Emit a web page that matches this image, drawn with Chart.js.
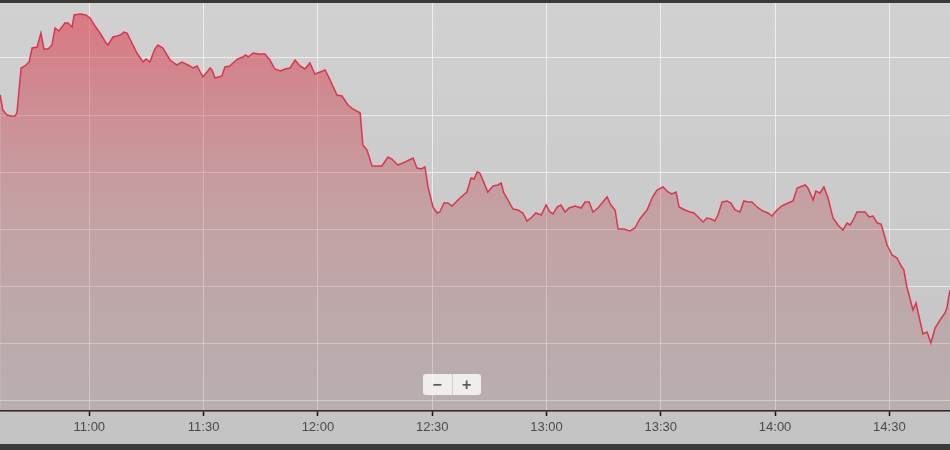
<!DOCTYPE html>
<html>
<head>
<meta charset="utf-8">
<title>Intraday price</title>
<script src="https://cdn.jsdelivr.net/npm/chart.js@4/dist/chart.umd.min.js"></script>
<style>
  html, body { margin: 0; padding: 0; background: #3b3a38; }
  #wrap { position: relative; width: 950px; height: 450px; }
  #zoomCtl {
    position: absolute; left: 423px; top: 374px; width: 58px; height: 21px;
    background: rgba(255,255,255,0.78); border-radius: 3px; display: flex;
    font: bold 16px "Liberation Sans", Arial, sans-serif; color: #5c5c5c;
  }
  #zoomCtl span { flex: 1; text-align: center; line-height: 21px; }
  #zoomCtl span + span { border-left: 1px solid rgba(200,200,200,0.8); }
</style>
</head>
<body>
<div id="wrap">
  <canvas id="priceChart"></canvas>
  <div id="zoomCtl"><span>−</span><span>+</span></div>
</div>
<script>
/* Intraday line, minutes counted from 10:00 */
const timeMin = [
  36.6, 37.3, 38.4, 39.4, 40.5, 41.0, 42.1, 43.1, 44.2, 45.0,
  46.3, 47.3, 48.1, 49.2, 50.2, 51.0, 52.0, 53.6, 54.4, 55.5,
  56.0, 57.6, 59.1, 60.2, 61.5, 62.8, 64.4, 64.9, 66.2, 67.3,
  68.1, 69.1, 69.9, 71.2, 72.5, 74.1, 74.9, 75.9, 77.2, 78.0,
  79.3, 81.2, 83.0, 84.3, 85.9, 87.2, 88.3, 89.8, 90.9, 91.7,
  92.2, 93.0, 94.8, 95.6, 96.9, 97.7, 99.0, 100.3, 101.1, 101.7,
  103.0, 104.3, 106.1, 107.4, 108.7, 110.1, 111.4, 112.7, 114.0, 115.3,
  116.6, 117.9, 119.2, 120.6, 121.9, 123.2, 125.0, 126.3, 127.9, 129.2,
  131.1, 131.8, 132.9, 134.2, 135.5, 136.8, 138.4, 139.4, 141.0, 142.9,
  145.0, 146.0, 147.1, 148.1, 148.9, 150.2, 151.3, 152.0, 153.1, 154.1,
  155.2, 157.3, 159.1, 160.2, 161.0, 161.8, 162.5, 163.3, 164.6, 166.0,
  167.3, 168.1, 168.8, 169.9, 171.2, 172.5, 173.8, 174.9, 176.2, 177.2,
  178.6, 179.9, 180.9, 181.7, 182.8, 183.8, 184.9, 185.9, 187.5, 189.1,
  190.1, 191.2, 192.2, 193.5, 194.8, 195.9, 196.9, 198.0, 198.8, 200.3,
  201.9, 203.2, 204.5, 206.4, 207.7, 209.0, 210.6, 211.9, 212.9, 214.0,
  214.8, 216.3, 217.7, 218.7, 219.8, 221.1, 222.1, 223.2, 224.2, 225.0,
  226.1, 227.4, 228.4, 229.5, 230.8, 231.8, 232.9, 233.9, 235.3, 236.8,
  238.1, 239.2, 240.5, 241.8, 243.4, 244.7, 245.8, 246.5, 247.9, 248.6,
  250.0, 250.7, 251.8, 252.8, 253.9, 255.2, 256.5, 257.8, 258.9, 259.7,
  260.5, 261.5, 262.8, 263.6, 264.7, 265.7, 266.8, 267.8, 268.3, 269.4,
  270.7, 272.0, 273.1, 273.8, 274.6, 275.7, 276.2, 277.0, 277.8, 278.8,
  279.9, 280.9, 282.0, 283.3, 284.6, 285.1, 285.9
];
const level = [
  305, 290, 285, 284, 284, 287, 332, 334, 338, 352,
  353, 367, 351, 351, 355, 372, 369, 377, 377, 373,
  385, 386, 385, 382, 374, 367, 357, 355, 363, 364,
  365, 368, 367, 357, 347, 338, 341, 338, 351, 355,
  352, 340, 335, 338, 335, 332, 334, 323, 328, 332,
  330, 322, 324, 333, 334, 337, 341, 343, 345, 343,
  347, 346, 346, 340, 331, 329, 331, 332, 340, 334,
  331, 337, 326, 328, 330, 320, 305, 304, 295, 291,
  287, 255, 250, 234, 234, 234, 243, 241, 235, 238,
  242, 232, 231, 233, 213, 193, 187, 188, 197, 197,
  194, 202, 208, 222, 221, 228, 227, 220, 208, 214,
  215, 217, 207, 200, 191, 190, 187, 179, 183, 187,
  185, 195, 188, 186, 193, 195, 188, 192, 194, 192,
  198, 198, 188, 192, 198, 203, 195, 190, 171, 171,
  169, 172, 181, 190, 202, 210, 213, 208, 206, 208,
  193, 190, 188, 187, 183, 178, 182, 181, 179, 185,
  198, 199, 197, 190, 188, 199, 198, 198, 193, 189,
  187, 184, 190, 194, 197, 199, 212, 213, 215, 212,
  200, 209, 207, 213, 202, 182, 175, 170, 177, 175,
  180, 188, 188, 188, 183, 184, 177, 176, 170, 155,
  145, 142, 134, 130, 113, 97, 90, 97, 83, 66,
  68, 57, 72, 80, 87, 92, 110
];
const tickMinutes = [60, 90, 120, 150, 180, 210, 240, 270];
const tickLabels = ['11:00', '11:30', '12:00', '12:30', '13:00', '13:30', '14:00', '14:30'];
const levelGrid = [0, 57, 114, 171, 228, 285, 342];

// gray backdrop plus the dark frame strips
const backdrop = {
  id: 'backdrop',
  beforeDraw(chart) {
    const { ctx, width, height } = chart;
    ctx.save();
    const g = ctx.createLinearGradient(0, 0, 0, height);
    g.addColorStop(0, '#d1d1d1');
    g.addColorStop(1, '#c3c3c3');
    ctx.fillStyle = g;
    ctx.fillRect(0, 0, width, height);
    ctx.fillStyle = '#3b3a38';
    ctx.fillRect(0, 0, width, 3);
    ctx.fillRect(0, 444, width, height - 444);
    ctx.restore();
  }
};

function fillGradient(context) {
  const { chart } = context;
  const area = chart.chartArea;
  if (!area) return 'rgba(225,45,65,0.4)';
  const g = chart.ctx.createLinearGradient(0, area.top, 0, area.bottom);
  g.addColorStop(0, 'rgba(226,45,65,0.56)');
  g.addColorStop(0.5, 'rgba(185,85,92,0.36)');
  g.addColorStop(1, 'rgba(150,110,112,0.25)');
  return g;
}

new Chart(document.getElementById('priceChart'), {
  type: 'line',
  data: {
    datasets: [{
      data: timeMin.map((t, i) => ({ x: t, y: level[i] })),
      borderColor: '#dc3550',
      borderWidth: 1.5,
      backgroundColor: fillGradient,
      fill: 'start',
      pointRadius: 0,
      tension: 0
    }]
  },
  options: {
    responsive: true,
    maintainAspectRatio: false,
    animation: false,
    layout: { padding: { top: 3, left: 0, right: 0, bottom: 0 } },
    plugins: { legend: { display: false }, tooltip: { enabled: false } },
    scales: {
      x: {
        type: 'linear',
        min: 36.56,
        max: 285.91,
        afterBuildTicks: axis => { axis.ticks = tickMinutes.map(v => ({ value: v })); },
        afterFit: axis => { axis.height = 39; },
        border: { display: true, color: '#151515', width: 1.5 },
        grid: { color: 'rgba(255,255,255,0.62)', lineWidth: 1, tickColor: '#151515', tickLength: 5, tickWidth: 1.5 },
        ticks: {
          autoSkip: false, maxRotation: 0, padding: 4,
          color: '#4a4a4a',
          font: { family: '"Liberation Sans", Arial, sans-serif', size: 13 },
          callback: (v, i) => tickLabels[i]
        }
      },
      y: {
        min: -11,
        max: 397,
        afterBuildTicks: axis => { axis.ticks = levelGrid.map(v => ({ value: v })); },
        afterFit: axis => { axis.width = 0; },
        border: { display: false },
        grid: { color: 'rgba(255,255,255,0.62)', lineWidth: 1, drawTicks: false },
        ticks: { display: false }
      }
    }
  },
  plugins: [backdrop]
});
</script>
</body>
</html>
